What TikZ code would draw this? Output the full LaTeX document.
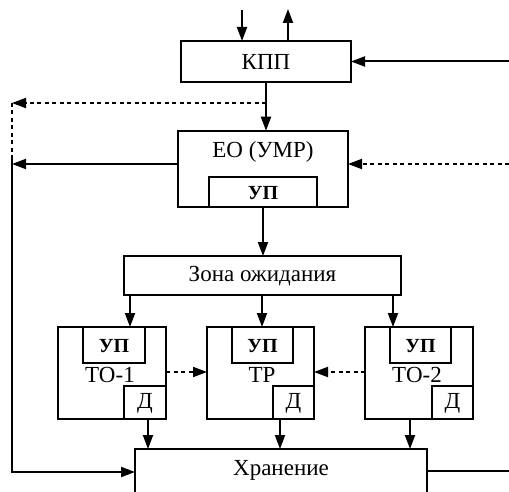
\documentclass[tikz,border=0pt]{standalone}
\usepackage{fontspec}
\setmainfont{Liberation Serif}
\usetikzlibrary{arrows.meta,calc}
\begin{document}
\begin{tikzpicture}[x=1pt,y=-1pt,
  box/.style={draw,line width=2pt,inner sep=0pt,outer sep=0pt,fill=white},
  txt/.style={inner sep=0pt,font=\fontsize{23}{24}\selectfont},
  btxt/.style={inner sep=0pt,font=\fontsize{20}{21}\selectfont\bfseries},
  arr/.style={line width=2pt,-{Triangle[length=14pt,width=10pt]}},
  darr/.style={line width=2pt,dash pattern=on 4pt off 3.5pt,-{Triangle[length=14pt,width=10pt]}},
  dln/.style={line width=2pt,dash pattern=on 4pt off 3.5pt},
  ln/.style={line width=2pt}]
\useasboundingbox (0,0) rectangle (509,492);
% boxes
\node[box,minimum width=170pt,minimum height=41pt] (kpp) at (266,61.5) {};
\node[txt] (kppt) at (266,62) {КПП};
\node[box,minimum width=170pt,minimum height=76.5pt] (eo) at (263,169) {};
\node[txt] (eot) at (263,152) {ЕО (УМР)};
\node[box,minimum width=108pt,minimum height=30pt] (eoup) at (263,192) {};
\node[btxt] (eoupt) at (263,193) {УП};
\node[box,minimum width=277pt,minimum height=39pt] (zona) at (262.5,275.5) {};
\node[txt] (zonat) at (262.5,276) {Зона ожидания};
% TO-1
\node[box,minimum width=108pt,minimum height=92pt] (to1) at (112,373) {};
\node[box,minimum width=62pt,minimum height=36pt] (to1up) at (114,345) {};
\node[btxt] (to1upt) at (114,346) {УП};
\node[box,minimum width=42pt,minimum height=33pt] (to1d) at (145,402.5) {};
\node[txt] (to1dt) at (145,403) {Д};
\node[txt] (to1t) at (110,375) {ТО-1};
% TR
\node[box,minimum width=107pt,minimum height=92pt] (tr) at (260.5,373) {};
\node[box,minimum width=61pt,minimum height=36pt] (trup) at (262.5,345) {};
\node[btxt] (trupt) at (262.5,346) {УП};
\node[box,minimum width=41pt,minimum height=33pt] (trd) at (293.5,402.5) {};
\node[txt] (trdt) at (293.5,403) {Д};
\node[txt] (trt) at (262,375) {ТР};
% TO-2
\node[box,minimum width=108pt,minimum height=92pt] (to2) at (419,373) {};
\node[box,minimum width=61pt,minimum height=36pt] (to2up) at (420.5,345) {};
\node[btxt] (to2upt) at (420.5,346) {УП};
\node[box,minimum width=41pt,minimum height=33pt] (to2d) at (452.5,402.5) {};
\node[txt] (to2dt) at (452.5,403) {Д};
\node[txt] (to2t) at (417,375) {ТО-2};
% storage
\node[box,minimum width=292pt,minimum height=52pt] (hran) at (281,475) {};
\node[txt] (hrant) at (281,470) {Хранение};
% coordinates
\coordinate (inTop) at (242,10);
\coordinate (outTop) at (288,9);
\coordinate (rKpp) at (509,61.5);
\coordinate (dJ) at (266,103);
\coordinate (lTop) at (12,103);
\coordinate (lDash) at (12,158);
\coordinate (lEo) at (12,164);
\coordinate (lBot) at (12,472);
\coordinate (rEo) at (509,164);
\coordinate (rHr) at (509,471);
\coordinate (z1) at (130,0);
\coordinate (z2) at (262,0);
\coordinate (z3) at (393,0);
\coordinate (d1) at (148,0);
\coordinate (d2) at (280,0);
\coordinate (d3) at (410,0);
\coordinate (dl) at (0,372);
% connectors
\draw[arr] (inTop) -- (inTop |- kpp.north);
\draw[arr] (outTop |- kpp.north) -- (outTop);
\draw[arr] (rKpp) -- (kpp.east);
\draw[arr] (kpp.south) -- (kpp.south |- eo.north);
\draw[darr] (dJ) -- (lTop);
\draw[dln] (lTop) -- (lDash);
\draw[arr] (lEo -| eo.west) -- (lEo);
\draw[darr] (rEo) -- (rEo -| eo.east);
\draw[arr] (lDash) -- (lBot) -- (lBot -| hran.west);
\draw[arr] (eoup.south) -- (eoup.south |- zona.north);
\draw[arr] (z1 |- zona.south) -- (z1 |- to1.north);
\draw[arr] (z2 |- zona.south) -- (z2 |- tr.north);
\draw[arr] (z3 |- zona.south) -- (z3 |- to2.north);
\draw[darr] (dl -| to1.east) -- (dl -| tr.west);
\draw[darr] (dl -| to2.west) -- (dl -| tr.east);
\draw[arr] (d1 |- to1.south) -- (d1 |- hran.north);
\draw[arr] (d2 |- tr.south) -- (d2 |- hran.north);
\draw[arr] (d3 |- to2.south) -- (d3 |- hran.north);
\draw[ln] (rHr -| hran.east) -- (rHr);
\end{tikzpicture}
\end{document}
